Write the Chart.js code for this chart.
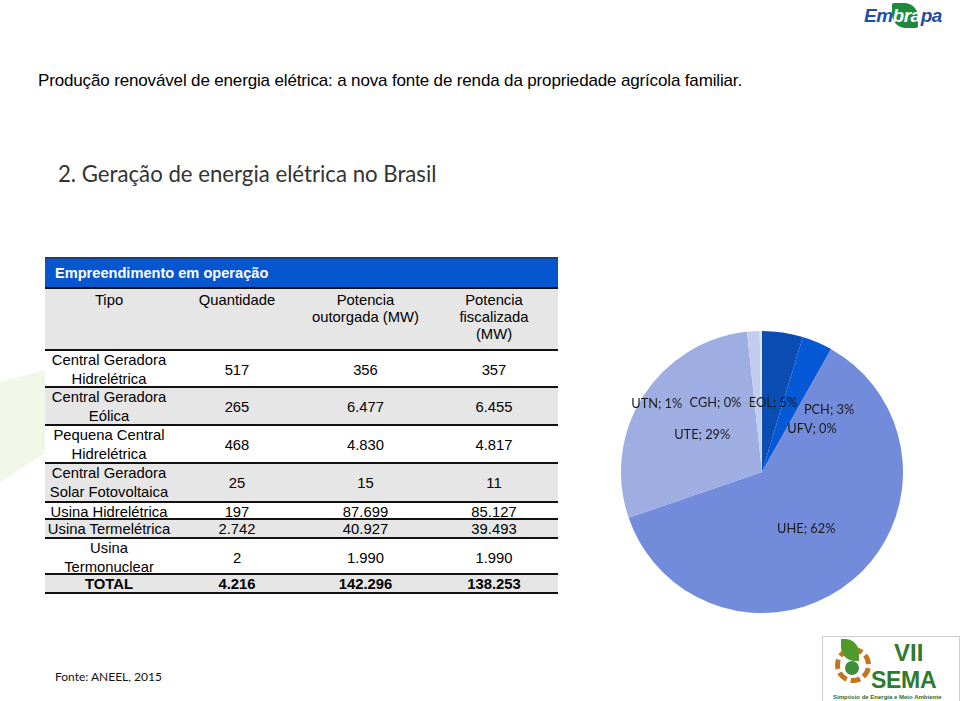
<!DOCTYPE html>
<html>
<head>
<meta charset="utf-8">
<script src="https://cdn.jsdelivr.net/npm/chart.js@4.4.1/dist/chart.umd.min.js"></script>
<style>
  body { margin: 0; width: 960px; height: 701px; background: #fff; position: relative; overflow: hidden; font-family: "Liberation Sans", Arial, sans-serif; }
  .abs { position: absolute; }
  #title { left: 38px; top: 71px; font-size: 17px; letter-spacing: -0.15px; color: #000; white-space: nowrap; }
  #subtitle { left: 58px; top: 160px; font-family: Lato, sans-serif; font-size: 22.2px; color: #333; white-space: nowrap; }
  #fonte { left: 55px; top: 669px; font-family: Lato, sans-serif; font-size: 12px; color: #111; }
  .watermark { left: 0; top: 370px; width: 45px; height: 150px; background: #eef5e4; clip-path: polygon(0 8%, 100% 0, 100% 55%, 0 75%); opacity: 0.8; }
  #tbl { left: 45px; top: 257px; width: 513px; font-size: 14.8px; color: #000; }
  .bar { height: 28px; background: #0657cf; color: #fff; font-weight: bold; font-size: 14.6px; line-height: 28px; padding-left: 10px; border-top: 2px solid #1a3f85; }
  .row { display: grid; grid-template-columns: 128px 128px 129px 128px; border-top: 2px solid #111; align-items: center; text-align: center; line-height: 19px; }
  .row.g { background: #e6e6e6; }
  .row.head { align-items: start; line-height: 17px; padding-top: 3px; }
  .row.tot { font-weight: bold; border-bottom: 2px solid #111; }
  #pieWrap { left: 612px; top: 322px; width: 300px; height: 300px; }
  #embrapa { left: 862px; top: 2px; width: 85px; height: 28px; }
  #sema { left: 822px; top: 636px; width: 136px; height: 64px; border: 1px solid #ccc; background: #fff; }
  #sema .t { line-height: 1; white-space: nowrap; }
</style>
</head>
<body>
<div class="abs watermark"></div>
<div id="title" class="abs">Produção renovável de energia elétrica: a nova fonte de renda da propriedade agrícola familiar.</div>
<div id="subtitle" class="abs">2. Geração de energia elétrica no Brasil</div>

<div id="tbl" class="abs"></div>

<div id="pieWrap" class="abs"><canvas id="pieChart" width="300" height="300"></canvas></div>

<div id="fonte" class="abs">Fonte: ANEEL, 2015</div>

<div id="embrapa" class="abs">
  <div class="abs" style="left:30px;top:1px;width:26px;height:25px;background:#1c8a3c;border-radius:2px 14px 2px 14px;"></div>
  <div class="abs" style="left:2px;top:3px;font:italic bold 19px 'Liberation Sans',Arial;color:#1f4fa3;letter-spacing:-0.5px;">Em<span style="color:#fff">bra</span>pa</div>
</div>

<div id="sema" class="abs">
  <div class="abs" style="left:12px;top:10px;width:36px;height:36px;border-radius:50%;border:5px dashed #c8741c;box-sizing:border-box;"></div>
  <div class="abs" style="left:18px;top:2px;width:18px;height:22px;background:#4f9a2a;border-radius:0 14px 0 14px;"></div>
  <div class="abs" style="left:22px;top:24px;width:14px;height:14px;border-radius:50%;background:#3f8f3a;"></div>
  <div class="abs t" style="left:71px;top:2px;font:bold 24px 'Liberation Sans',Arial;color:#2f7a2f;">VII</div>
  <div class="abs t" style="left:48px;top:30px;font:bold 23px 'Liberation Sans',Arial;color:#2f7a2f;letter-spacing:-0.3px;">SEMA</div>
  <div class="abs t" style="left:10px;top:57px;font:bold 6px 'Liberation Sans',Arial;color:#2f6a2f;">Simpósio de Energia e Meio Ambiente</div>
</div>

<script>
// Table data
const tableHead = ['Tipo', 'Quantidade', 'Potencia<br>outorgada (MW)', 'Potencia<br>fiscalizada<br>(MW)'];
const tipos = ['Central Geradora<br>Hidrelétrica', 'Central Geradora<br>Eólica', 'Pequena Central<br>Hidrelétrica',
               'Central Geradora<br>Solar Fotovoltaica', 'Usina Hidrelétrica', 'Usina Termelétrica', 'Usina<br>Termonuclear'];
const quantidade = ['517', '265', '468', '25', '197', '2.742', '2'];
const outorgada = ['356', '6.477', '4.830', '15', '87.699', '40.927', '1.990'];
const fiscalizada = ['357', '6.455', '4.817', '11', '85.127', '39.493', '1.990'];
const totals = ['TOTAL', '4.216', '142.296', '138.253'];
const rowHeights = [35, 36, 36, 37, 15, 17, 34];

// Pie data (potencia fiscalizada, MW)
const pieLabels = ['EOL', 'PCH', 'UFV', 'UHE', 'UTE', 'UTN', 'CGH'];
const pieValues = [6455, 4817, 11, 85127, 39493, 1990, 357];
const pieColors = ['#0b4db3', '#0659d6', '#2a62cf', '#728bdb', '#9eaee3', '#c1ccef', '#dfe5f7'];

// label placement (angle clockwise from top, fraction of radius)
const labelAngles = [9, 47, 49, 142, 302, 303, 326];
const labelRadii = [0.50, 0.65, 0.47, 0.51, 0.50, 0.89, 0.59];

function buildTable() {
    const t = document.getElementById('tbl');
    let html = '<div class="bar">Empreendimento em operação</div>';
    html += '<div class="row g head" style="height:57px">' + tableHead.map(h => '<div>' + h + '</div>').join('') + '</div>';
    tipos.forEach((tipo, i) => {
        const cls = i % 2 === 1 ? 'row g' : 'row';
        html += '<div class="' + cls + '" style="height:' + rowHeights[i] + 'px">' +
            '<div>' + tipo + '</div><div>' + quantidade[i] + '</div><div>' + outorgada[i] + '</div><div>' + fiscalizada[i] + '</div></div>';
    });
    html += '<div class="row g tot" style="height:17px">' + totals.map(v => '<div>' + v + '</div>').join('') + '</div>';
    t.innerHTML = html;
}

const pieLabelPlugin = {
    id: 'pieLabels',
    afterDatasetsDraw(chart) {
        const ctx = chart.ctx;
        const meta = chart.getDatasetMeta(0);
        const total = pieValues.reduce((a, b) => a + b, 0);
        ctx.save();
        ctx.font = '12.8px Lato, sans-serif';
        ctx.fillStyle = '#1a1a1a';
        ctx.textAlign = 'center';
        ctx.textBaseline = 'middle';
        meta.data.forEach((arc, i) => {
            const a = labelAngles[i] * Math.PI / 180;
            const r = arc.outerRadius * labelRadii[i];
            const x = arc.x + r * Math.sin(a);
            const y = arc.y - r * Math.cos(a);
            const pct = Math.round(pieValues[i] / total * 100);
            ctx.fillText(pieLabels[i] + '; ' + pct + '%', x, y);
            // leader line for CGH
            if (pieLabels[i] === 'CGH') {
                const w = ctx.measureText(pieLabels[i] + '; ' + pct + '%').width;
                ctx.strokeStyle = '#9a9a9a';
                ctx.lineWidth = 1;
                ctx.beginPath();
                ctx.moveTo(x + w / 2 + 1, y);
                ctx.lineTo(arc.x - 2, y);
                ctx.stroke();
            }
        });
        ctx.restore();
    }
};

function drawPie() {
    const ctx = document.getElementById('pieChart').getContext('2d');
    new Chart(ctx, {
        type: 'pie',
        data: {
            labels: pieLabels,
            datasets: [{
                data: pieValues,
                backgroundColor: pieColors,
                borderWidth: 0
            }]
        },
        options: {
            responsive: false,
            animation: false,
            layout: { padding: 9 },
            plugins: {
                legend: { display: false },
                tooltip: { enabled: false }
            }
        },
        plugins: [pieLabelPlugin]
    });
}

buildTable();
drawPie();
</script>
</body>
</html>
